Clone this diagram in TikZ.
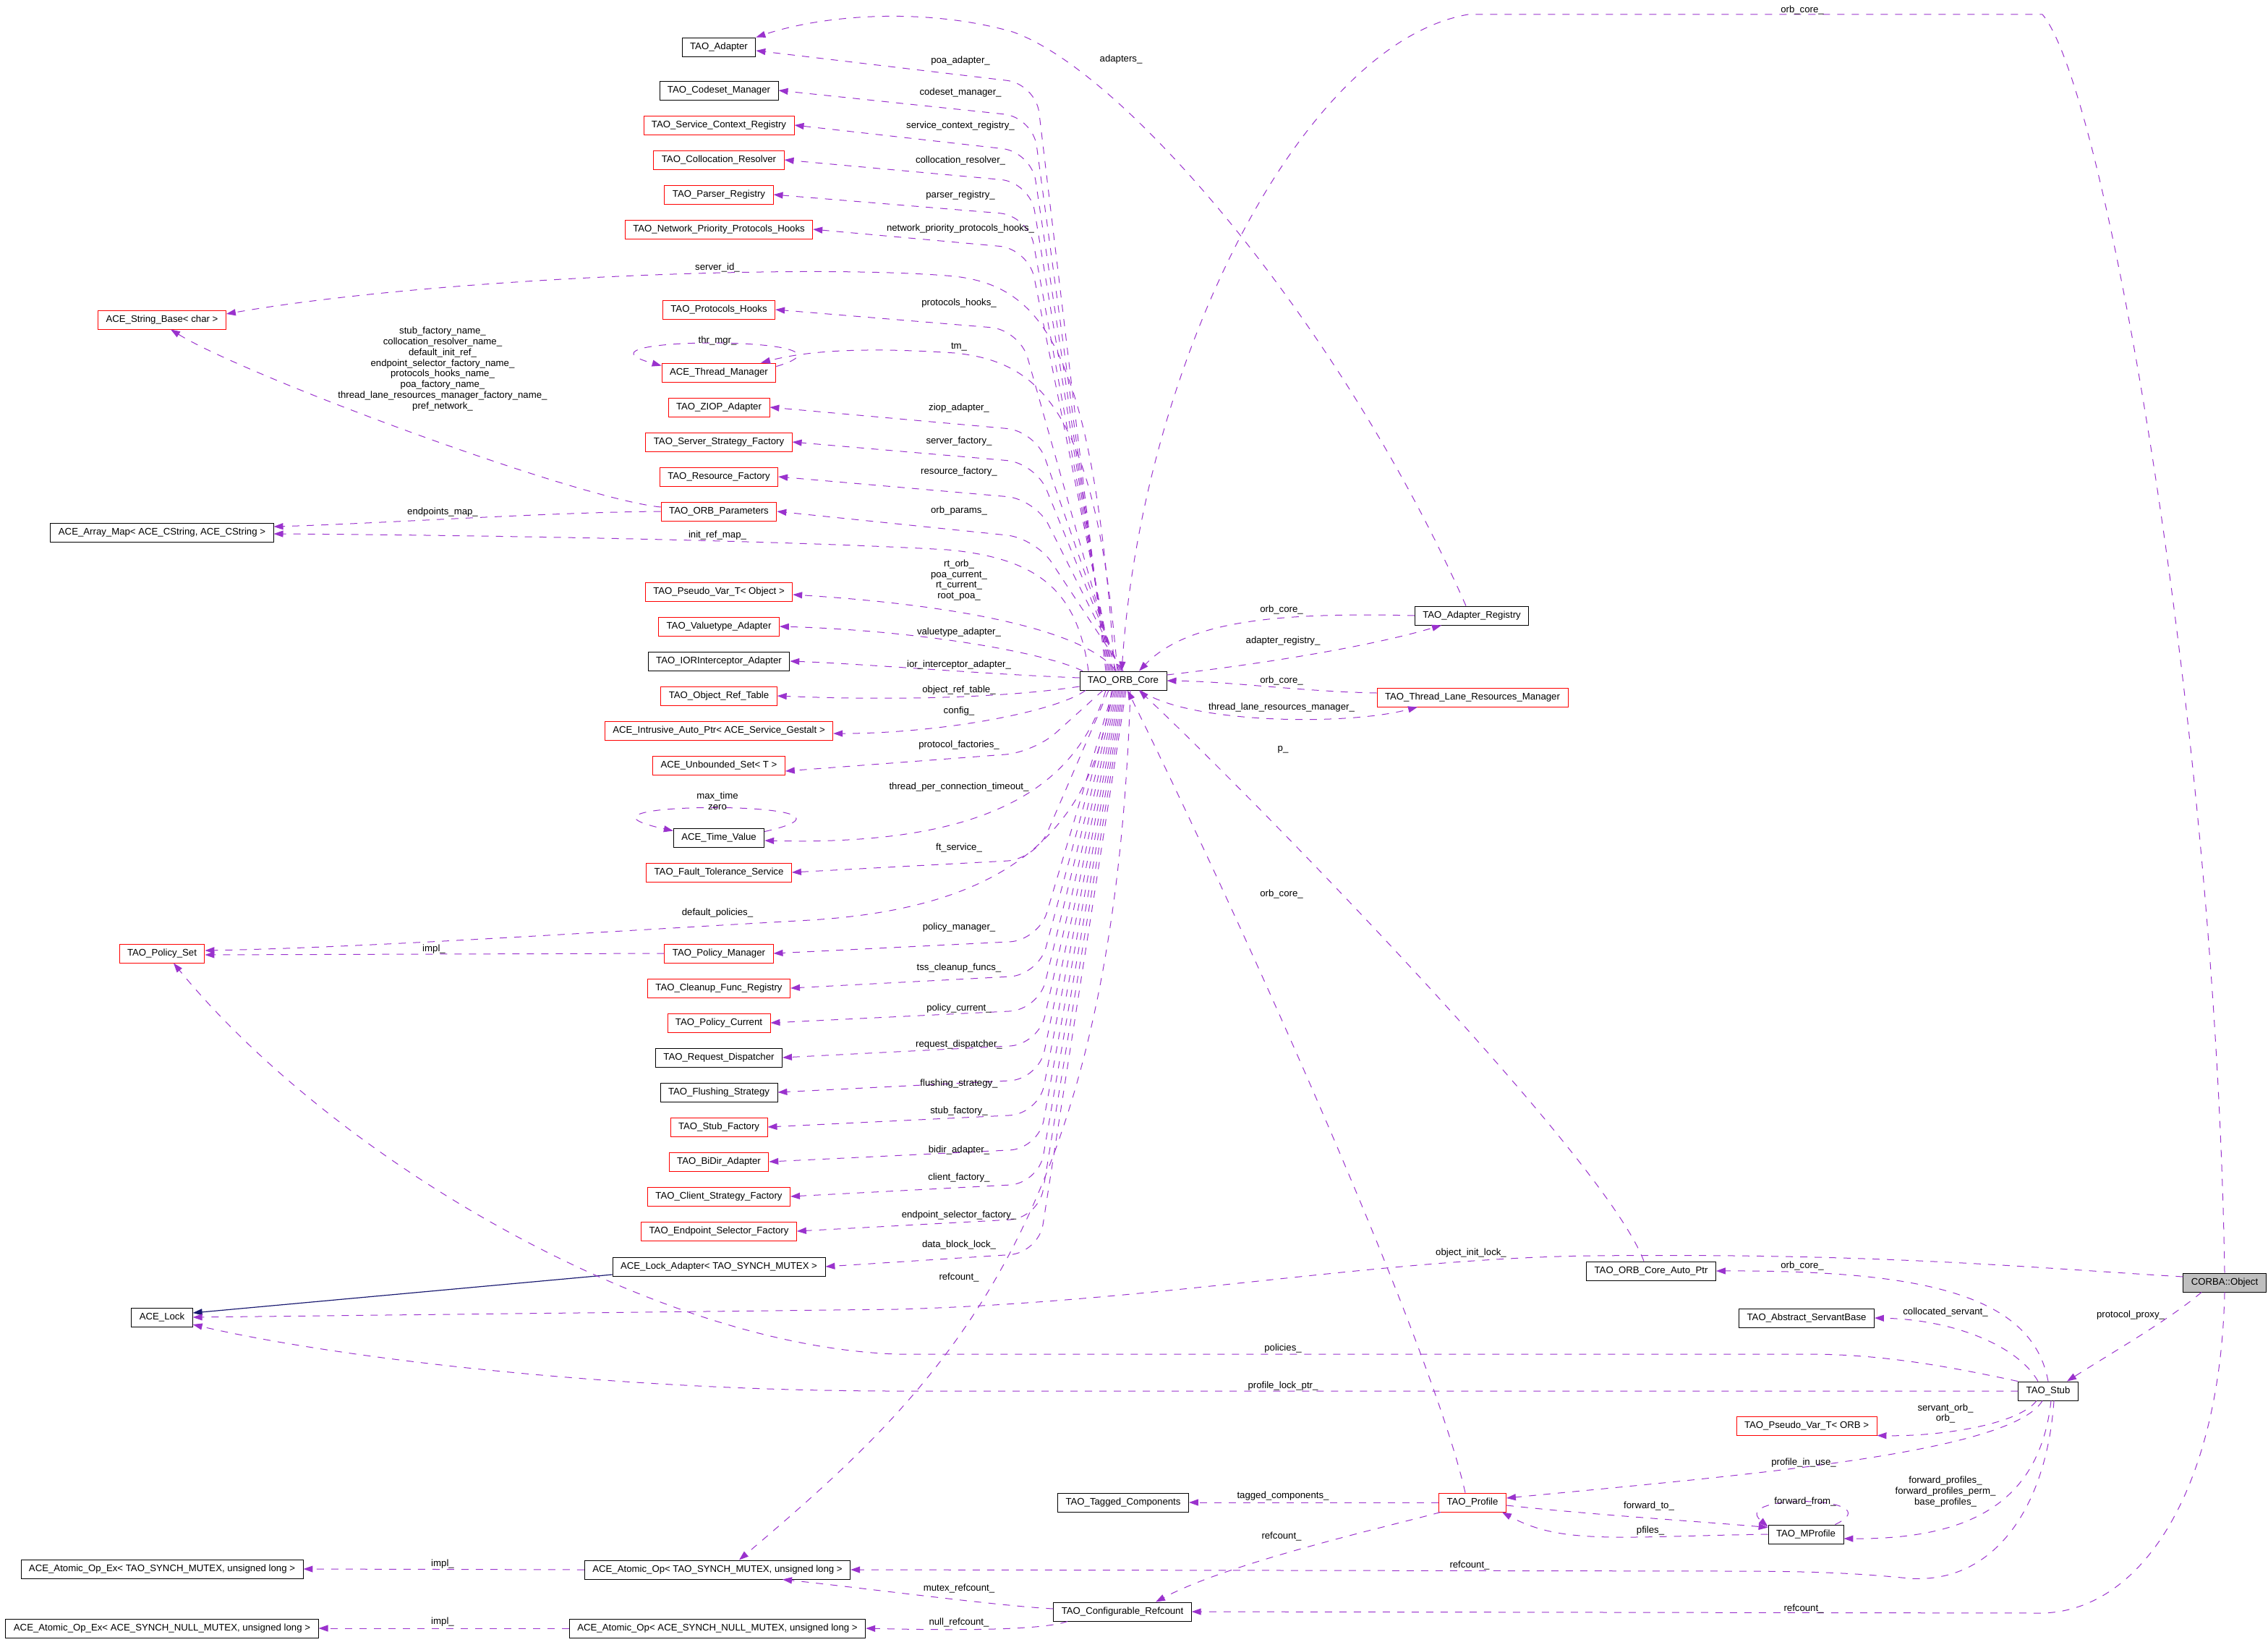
\documentclass[tikz,border=0pt]{standalone}
\usepackage{fontspec}
\setmainfont{Liberation Sans}
\usetikzlibrary{arrows.meta}
\definecolor{edgepurple}{RGB}{154,50,205}
\definecolor{inhblue}{RGB}{25,25,112}
\definecolor{rootgray}{RGB}{191,191,191}
\newcommand{\dxfont}{\fontsize{6.6}{7.4}\selectfont}
\tikzset{
  cls/.style={rectangle, draw=black, fill=white, font=\dxfont,
    inner xsep=5.5pt, inner ysep=0pt, minimum height=13pt, line width=0.45pt},
  redcls/.style={cls, draw=red},
  rootcls/.style={cls, fill=rootgray},
  member/.style={color=edgepurple, line width=0.5pt, dash pattern=on 5pt off 5pt,
    -{Triangle[length=6.5pt,width=4.5pt]}},
  fan/.style={member, rounded corners=20pt},
  inherit/.style={color=inhblue, line width=0.6pt, -{Triangle[length=6.5pt,width=4.5pt]}},
  lbl/.style={font=\dxfont, inner sep=0pt, align=center}
}

\begin{document}
\begin{tikzpicture}[x=1pt, y=-1pt]
  \useasboundingbox (0,0) rectangle (1568,1140);

  % Members of TAO_ORB_Core (left column)
  \node[cls] (adapter) at (497,32.5) {TAO\_Adapter};
  \node[cls] (codeset) at (497,62.5) {TAO\_Codeset\_Manager};
  \node[redcls] (servctx) at (497,86.5) {TAO\_Service\_Context\_Registry};
  \node[redcls] (colloc) at (497,110.5) {TAO\_Collocation\_Resolver};
  \node[redcls] (parser) at (497,134.5) {TAO\_Parser\_Registry};
  \node[redcls] (netprio) at (497,158.5) {TAO\_Network\_Priority\_Protocols\_Hooks};
  \node[redcls] (prothooks) at (497,214) {TAO\_Protocols\_Hooks};
  \node[redcls] (thrmgr) at (497,257.5) {ACE\_Thread\_Manager};
  \node[redcls] (ziop) at (497,281.5) {TAO\_ZIOP\_Adapter};
  \node[redcls] (srvfact) at (497,305.5) {TAO\_Server\_Strategy\_Factory};
  \node[redcls] (resfact) at (497,329.5) {TAO\_Resource\_Factory};
  \node[redcls] (orbparams) at (497,353.5) {TAO\_ORB\_Parameters};
  \node[redcls] (pvobj) at (497,409) {TAO\_Pseudo\_Var\_T< Object >};
  \node[redcls] (valtype) at (497,433) {TAO\_Valuetype\_Adapter};
  \node[cls] (iorint) at (497,457) {TAO\_IORInterceptor\_Adapter};
  \node[redcls] (objref) at (497,481) {TAO\_Object\_Ref\_Table};
  \node[redcls] (intrusive) at (497,505) {ACE\_Intrusive\_Auto\_Ptr< ACE\_Service\_Gestalt >};
  \node[redcls] (unbounded) at (497,529) {ACE\_Unbounded\_Set< T >};
  \node[cls] (timeval) at (497,579) {ACE\_Time\_Value};
  \node[redcls] (ftserv) at (497,603) {TAO\_Fault\_Tolerance\_Service};
  \node[redcls] (polmgr) at (497,659) {TAO\_Policy\_Manager};
  \node[redcls] (cleanup) at (497,683) {TAO\_Cleanup\_Func\_Registry};
  \node[redcls] (polcur) at (497,707) {TAO\_Policy\_Current};
  \node[cls] (reqdisp) at (497,731) {TAO\_Request\_Dispatcher};
  \node[cls] (flush) at (497,755) {TAO\_Flushing\_Strategy};
  \node[redcls] (stubfact) at (497,779) {TAO\_Stub\_Factory};
  \node[redcls] (bidir) at (497,803) {TAO\_BiDir\_Adapter};
  \node[redcls] (clifact) at (497,827) {TAO\_Client\_Strategy\_Factory};
  \node[redcls] (endpoint) at (497,851) {TAO\_Endpoint\_Selector\_Factory};
  \node[cls] (lockadapt) at (497,875.5) {ACE\_Lock\_Adapter< TAO\_SYNCH\_MUTEX >};

  % Far left column
  \node[redcls] (strbase) at (112,221) {ACE\_String\_Base< char >};
  \node[cls] (arraymap) at (112,368) {ACE\_Array\_Map< ACE\_CString, ACE\_CString >};
  \node[redcls] (polset) at (112,659) {TAO\_Policy\_Set};
  \node[cls] (acelock) at (112,910.5) {ACE\_Lock};
  \node[cls] (opexmutex) at (112,1084.5) {ACE\_Atomic\_Op\_Ex< TAO\_SYNCH\_MUTEX, unsigned long >};
  \node[cls] (opexnull) at (112,1125.5) {ACE\_Atomic\_Op\_Ex< ACE\_SYNCH\_NULL\_MUTEX, unsigned long >};
  \node[cls] (opmutex) at (496,1085) {ACE\_Atomic\_Op< TAO\_SYNCH\_MUTEX, unsigned long >};
  \node[cls] (opnull) at (496,1125.5) {ACE\_Atomic\_Op< ACE\_SYNCH\_NULL\_MUTEX, unsigned long >};

  % Core and right side
  \node[cls] (core) at (776.5,470.5) {TAO\_ORB\_Core};
  \node[cls] (adreg) at (1017.5,425.5) {TAO\_Adapter\_Registry};
  \node[redcls] (thrlane) at (1018,482) {TAO\_Thread\_Lane\_Resources\_Manager};
  \node[cls] (autoptr) at (1141.5,878.5) {TAO\_ORB\_Core\_Auto\_Ptr};
  \node[cls] (servant) at (1249,911) {TAO\_Abstract\_ServantBase};
  \node[rootcls] (corba) at (1538,886.5) {CORBA::Object};
  \node[cls] (stub) at (1416,961.5) {TAO\_Stub};
  \node[redcls] (pvorb) at (1249,985.5) {TAO\_Pseudo\_Var\_T< ORB >};
  \node[cls] (tagged) at (776.5,1038.5) {TAO\_Tagged\_Components};
  \node[redcls] (profile) at (1018,1038.5) {TAO\_Profile};
  \node[cls] (mprofile) at (1248.5,1060.5) {TAO\_MProfile};
  \node[cls] (refcnt) at (776,1114) {TAO\_Configurable\_Refcount};

  % TAO_ORB_Core, upward fan
  \draw[fan] ([xshift=-12]core.north) -- (716,58) -- ([yshift=-2.5]adapter.east);
  \draw[fan] ([xshift=-11]core.north) -- (714,81) -- (codeset.east);
  \draw[fan] ([xshift=-10]core.north) -- (713,105) -- (servctx.east);
  \draw[fan] ([xshift=-9]core.north) -- (712,126) -- (colloc.east);
  \draw[fan] ([xshift=-8]core.north) -- (711,149) -- (parser.east);
  \draw[fan] ([xshift=-7]core.north) -- (711,172) -- (netprio.east);
  \draw[member] ([xshift=-6]core.north) .. controls (756,240) and (720,198) .. (660,191)
    .. controls (560,182) and (300,192) .. ([yshift=4]strbase.east);
  \draw[fan] ([xshift=-5]core.north) -- (705,228) -- (prothooks.east);
  \draw[member] ([xshift=-4]core.north) .. controls (758,285) and (720,250) .. (660,244)
    .. controls (600,240) and (560,242) .. ([xshift=29]thrmgr.north);
  \draw[fan] ([xshift=-3]core.north) -- (716,298) -- (ziop.east);
  \draw[fan] ([xshift=-2]core.north) -- (716,320) -- (srvfact.east);
  \draw[fan] ([xshift=-1]core.north) -- (716,345) -- (resfact.east);
  \draw[fan] (core.north) -- (716,372) -- (orbparams.east);
  \draw[member] ([xshift=-24]core.north) .. controls (745,410) and (720,386) .. (655,380)
    .. controls (550,374) and (350,370) .. ([yshift=-1]arraymap.east);
  \draw[member] ([xshift=-5]core.north) .. controls (750,435) and (660,418) .. ([yshift=-2]pvobj.east);
  \draw[member] ([xshift=-28]core.north) .. controls (725,452) and (640,436) .. (valtype.east);
  \draw[member] ([yshift=2]core.west) .. controls (680,466) and (600,459) .. (iorint.east);
  \draw[member] ([yshift=-4]core.west) .. controls (690,483) and (610,484) .. (objref.east);

  % TAO_ORB_Core, downward fan
  \draw[member] ([xshift=-26]core.south) .. controls (730,492) and (650,507) .. ([yshift=-2]intrusive.east);
  \draw[fan] ([xshift=-14]core.south) -- (715,520) -- ([yshift=-4]unbounded.east);
  \draw[member] ([xshift=-12]core.south) .. controls (745,540) and (690,585) .. ([yshift=-2]timeval.east);
  \draw[fan] ([xshift=-10]core.south) -- (716,594) -- (ftserv.east);
  \draw[member] ([xshift=-8]core.south) .. controls (755,580) and (690,628) .. (560,636)
    .. controls (400,645) and (250,655) .. ([yshift=2]polset.east);
  \draw[fan] ([xshift=-7]core.south) -- (718,650) -- (polmgr.east);
  \draw[fan] ([xshift=-6]core.south) -- (718,674) -- (cleanup.east);
  \draw[fan] ([xshift=-5]core.south) -- (718,698) -- (polcur.east);
  \draw[fan] ([xshift=-4]core.south) -- (718,722) -- (reqdisp.east);
  \draw[fan] ([xshift=-3]core.south) -- (718,746) -- (flush.east);
  \draw[fan] ([xshift=-2]core.south) -- (718,770) -- (stubfact.east);
  \draw[fan] ([xshift=-1]core.south) -- (718,794) -- (bidir.east);
  \draw[fan] (core.south) -- (718,818) -- (clifact.east);
  \draw[fan] ([xshift=1]core.south) -- (718,842) -- (endpoint.east);
  \draw[fan] ([xshift=2]core.south) -- (718,866) -- (lockadapt.east);
  \draw[member] ([xshift=5]core.south) .. controls (770,850) and (650,960) .. ([xshift=15]opmutex.north);

  % Self loops and left-side links
  \draw[member] ([yshift=-2.5]thrmgr.north east) .. controls (610,232) and (382,232) .. ([yshift=-2]thrmgr.north west);
  \draw[member] ([yshift=-2.5]timeval.north east) .. controls (625,553) and (368,553) .. ([yshift=-2]timeval.north west);
  \draw[member] ([yshift=3]orbparams.west) .. controls (400,345) and (170,260) .. ([xshift=6]strbase.south);
  \draw[member] (orbparams.west) .. controls (380,354) and (260,362) .. ([yshift=4]arraymap.east);
  \draw[member] (polmgr.west) -- ([yshift=-1]polset.east);
  \draw[inherit] ([yshift=-5.5]lockadapt.west) -- ([yshift=3]acelock.east);

  % TAO_Adapter_Registry and TAO_Thread_Lane_Resources_Manager
  \draw[member] (adreg.west) .. controls (880,423) and (820,430) .. ([xshift=11]core.north);
  \draw[member] ([yshift=4]core.east) .. controls (880,458) and (950,446) .. ([xshift=-21]adreg.south);
  \draw[member] ([xshift=-4]adreg.north) .. controls (930,230) and (780,50) .. (700,22)
    .. controls (640,5) and (570,10) .. (adapter.north east);
  \draw[member] ([yshift=3]thrlane.west) .. controls (900,478) and (850,471) .. (core.east);
  \draw[member] ([xshift=12]core.south) .. controls (820,500) and (930,502) .. ([xshift=-38]thrlane.south);

  % CORBA::Object
  \draw[member] (corba.north) .. controls (1532,500) and (1455,60) .. (1412,10) -- (1015,10)
    .. controls (900,30) and (790,250) .. ([xshift=-1]core.north);
  \draw[member] ([yshift=4]corba.west) .. controls (1400,876) and (1300,866) .. (1100,868)
    .. controls (950,870) and (800,900) .. (620,905) -- (acelock.east);
  \draw[member] ([xshift=-16]corba.south) .. controls (1500,912) and (1460,935) .. ([xshift=13]stub.north);
  \draw[member] (corba.south) .. controls (1535,1030) and (1480,1115) .. (1410,1115) -- (refcnt.east);

  % TAO_ORB_Core_Auto_Ptr and TAO_Stub
  \draw[member] ([xshift=-5]autoptr.north) .. controls (1110,800) and (860,545) .. ([xshift=11]core.south);
  \draw[member] (stub.north) .. controls (1405,895) and (1330,878) .. (autoptr.east);
  \draw[member] ([xshift=-7]stub.north) .. controls (1395,930) and (1350,912) .. (servant.east);
  \draw[member] (stub.north west) .. controls (1345,944) and (1300,936) .. (1250,936) -- (620,936)
    .. controls (450,930) and (230,800) .. ([xshift=8]polset.south);
  \draw[member] (stub.west) -- (620,961.5) .. controls (420,961.5) and (230,938) .. ([yshift=-5]acelock.east);
  \draw[member] ([xshift=-8]stub.south) .. controls (1395,985) and (1340,993) .. (pvorb.south east);
  \draw[member] ([xshift=-4]stub.south) .. controls (1390,1005) and (1200,1020) .. ([yshift=3]profile.east);
  \draw[member] ([xshift=2]stub.south) .. controls (1410,1040) and (1360,1064) .. ([yshift=-3]mprofile.east);
  \draw[member] ([xshift=4]stub.south) .. controls (1415,1040) and (1380,1095) .. (1320,1091)
    .. controls (1290,1088) and (1260,1086) .. (1200,1086) -- (opmutex.east);

  % TAO_Profile and TAO_MProfile
  \draw[member] (profile.west) -- (tagged.east);
  \draw[member] ([xshift=-5]profile.north) .. controls (990,930) and (860,640) .. ([xshift=3]core.south);
  \draw[member] ([yshift=-2]profile.east) .. controls (1100,1047) and (1180,1052) .. ([yshift=-2]mprofile.north west);
  \draw[member] (mprofile.west) .. controls (1120,1062) and (1080,1068) .. ([xshift=-3]profile.south east);
  \draw[member] ([xshift=-6]mprofile.north east) .. controls (1310,1034) and (1195,1032) .. ([yshift=-1.5]mprofile.north west);
  \draw[member] ([xshift=-22]profile.south) .. controls (960,1055) and (850,1080) .. ([xshift=23]refcnt.north);

  % Refcount and atomic ops
  \draw[member] ([yshift=2]refcnt.west) .. controls (690,1110) and (600,1098) .. ([xshift=45]opmutex.south);
  \draw[member] ([xshift=-38]refcnt.south) .. controls (720,1127) and (660,1127) .. (opnull.east);
  \draw[member] (opmutex.west) -- (opexmutex.east);
  \draw[member] (opnull.west) -- (opexnull.east);

  % Edge labels
  \node[lbl] (lpoa) at (664,42) {poa\_adapter\_};
  \node[lbl] (lcodeset) at (664,64) {codeset\_manager\_};
  \node[lbl] (lservctx) at (664,87) {service\_context\_registry\_};
  \node[lbl] (lcolloc) at (664,111) {collocation\_resolver\_};
  \node[lbl] (lparser) at (664,135) {parser\_registry\_};
  \node[lbl] (lnetprio) at (664,158) {network\_priority\_protocols\_hooks\_};
  \node[lbl] (lserverid) at (496,185) {server\_id\_};
  \node[lbl] (lprothooks) at (663,209.5) {protocols\_hooks\_};
  \node[lbl] (lthrmgr) at (496,235.5) {thr\_mgr\_};
  \node[lbl] (ltm) at (663,240) {tm\_};
  \node[lbl] (lnames) at (306,255) {stub\_factory\_name\_\\collocation\_resolver\_name\_\\default\_init\_ref\_\\endpoint\_selector\_factory\_name\_\\protocols\_hooks\_name\_\\poa\_factory\_name\_\\thread\_lane\_resources\_manager\_factory\_name\_\\pref\_network\_};
  \node[lbl] (lziop) at (663,282) {ziop\_adapter\_};
  \node[lbl] (lsrvfact) at (663,305) {server\_factory\_};
  \node[lbl] (lresfact) at (663,326) {resource\_factory\_};
  \node[lbl] (lendpoints) at (306,354) {endpoints\_map\_};
  \node[lbl] (lorbparams) at (663,353) {orb\_params\_};
  \node[lbl] (linitref) at (496,370) {init\_ref\_map\_};
  \node[lbl] (lpvobj) at (663,401) {rt\_orb\_\\poa\_current\_\\rt\_current\_\\root\_poa\_};
  \node[lbl] (lvaltype) at (663,437) {valuetype\_adapter\_};
  \node[lbl] (liorint) at (663,459.5) {ior\_interceptor\_adapter\_};
  \node[lbl] (lobjref) at (663,477) {object\_ref\_table\_};
  \node[lbl] (lconfig) at (663,491.5) {config\_};
  \node[lbl] (lprotfact) at (663,515) {protocol\_factories\_};
  \node[lbl] (ltimeout) at (663,544) {thread\_per\_connection\_timeout\_};
  \node[lbl] (ltimeval) at (496,553.5) {max\_time\\zero};
  \node[lbl] (lftserv) at (663,586) {ft\_service\_};
  \node[lbl] (ldefpol) at (496,631) {default\_policies\_};
  \node[lbl] (limpl) at (300,656) {impl\_};
  \node[lbl] (lpolmgr) at (663,641) {policy\_manager\_};
  \node[lbl] (lcleanup) at (663,669) {tss\_cleanup\_funcs\_};
  \node[lbl] (lpolcur) at (663,697) {policy\_current\_};
  \node[lbl] (lreqdisp) at (663,722) {request\_dispatcher\_};
  \node[lbl] (lflush) at (663,749) {flushing\_strategy\_};
  \node[lbl] (lstubfact) at (663,768) {stub\_factory\_};
  \node[lbl] (lbidir) at (663,795) {bidir\_adapter\_};
  \node[lbl] (lclifact) at (663,814) {client\_factory\_};
  \node[lbl] (lendpoint) at (663,840) {endpoint\_selector\_factory\_};
  \node[lbl] (ldatablock) at (663,860.5) {data\_block\_lock\_};
  \node[lbl] (lcorerefcount) at (663,883) {refcount\_};

  \node[lbl] (lcorbaorb) at (1246,7) {orb\_core\_};
  \node[lbl] (ladapters) at (775,41) {adapters\_};
  \node[lbl] (ladregorb) at (886,421.5) {orb\_core\_};
  \node[lbl] (ladreg) at (887,443) {adapter\_registry\_};
  \node[lbl] (lthrlaneorb) at (886,470.5) {orb\_core\_};
  \node[lbl] (lthrlane) at (886,489) {thread\_lane\_resources\_manager\_};
  \node[lbl] (lp) at (887,518) {p\_};
  \node[lbl] (lprofileorb) at (886,618) {orb\_core\_};
  \node[lbl] (lobjinit) at (1017,866) {object\_init\_lock\_};
  \node[lbl] (lstuborb) at (1246,875) {orb\_core\_};
  \node[lbl] (lcollserv) at (1345,907) {collocated\_servant\_};
  \node[lbl] (lproxy) at (1473,909) {protocol\_proxy\_};
  \node[lbl] (lpolicies) at (887,932) {policies\_};
  \node[lbl] (lproflock) at (887,958) {profile\_lock\_ptr\_};
  \node[lbl] (lservorb) at (1345,977) {servant\_orb\_\\orb\_};
  \node[lbl] (lprofuse) at (1247,1011) {profile\_in\_use\_};
  \node[lbl] (lfwdprof) at (1345,1031) {forward\_profiles\_\\forward\_profiles\_perm\_\\base\_profiles\_};
  \node[lbl] (ltagged) at (887,1034) {tagged\_components\_};
  \node[lbl] (lfwdto) at (1140,1041) {forward\_to\_};
  \node[lbl] (lfwdfrom) at (1248,1038) {forward\_from\_};
  \node[lbl] (lpfiles) at (1141,1058) {pfiles\_};
  \node[lbl] (lprofref) at (886,1062) {refcount\_};
  \node[lbl] (lstubref) at (1016,1082) {refcount\_};
  \node[lbl] (lcorbaref) at (1247,1112) {refcount\_};
  \node[lbl] (limplmutex) at (306,1081) {impl\_};
  \node[lbl] (lmutexref) at (663,1098) {mutex\_refcount\_};
  \node[lbl] (limplnull) at (306,1121) {impl\_};
  \node[lbl] (lnullref) at (663,1121.5) {null\_refcount\_};
\end{tikzpicture}
\end{document}
